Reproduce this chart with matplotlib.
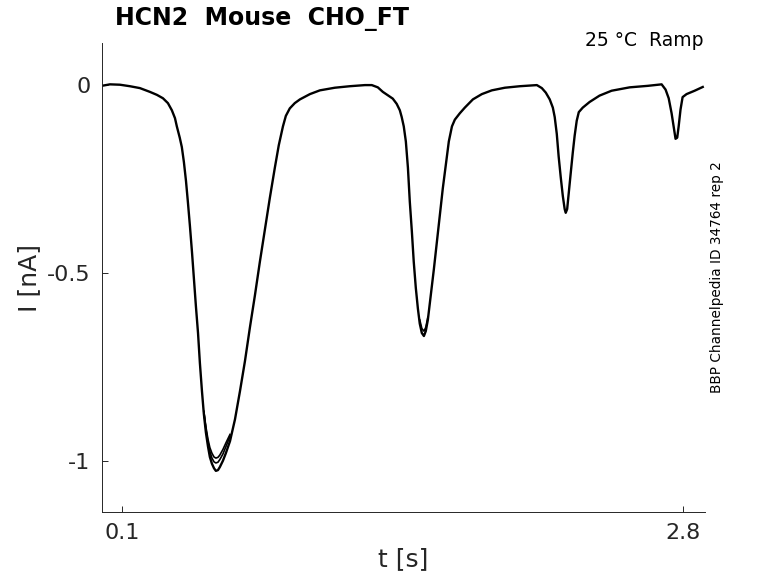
import matplotlib
matplotlib.use("Agg")
import matplotlib.pyplot as plt
import numpy as np

t = [0.000, 0.040, 0.088, 0.136, 0.184, 0.232, 0.266, 0.295, 0.319, 0.338,
     0.353, 0.362, 0.376, 0.386, 0.396, 0.406, 0.415, 0.425, 0.435, 0.444,
     0.454, 0.464, 0.473, 0.483, 0.492, 0.502, 0.512, 0.521, 0.531, 0.541,
     0.550, 0.560, 0.569, 0.584, 0.598, 0.618, 0.642, 0.666, 0.690, 0.714,
     0.738, 0.762, 0.786, 0.810, 0.834, 0.853, 0.873, 0.887, 0.906, 0.930,
     0.955, 1.003, 1.051, 1.123, 1.195, 1.268, 1.301,
     1.330, 1.354, 1.378, 1.402, 1.421, 1.436, 1.445, 1.455, 1.465, 1.475,
     1.484, 1.494, 1.503, 1.513, 1.523, 1.532, 1.542, 1.552, 1.561, 1.571,
     1.585, 1.600, 1.614, 1.629, 1.643, 1.658, 1.672, 1.687, 1.701, 1.725,
     1.749, 1.788, 1.831, 1.879, 1.942, 2.014, 2.096,
     2.120, 2.139, 2.158, 2.173, 2.182, 2.192, 2.201, 2.211, 2.221, 2.230,
     2.235, 2.242, 2.249, 2.259, 2.269, 2.278, 2.288, 2.298, 2.317, 2.350,
     2.398, 2.456, 2.543, 2.630, 2.697,
     2.716, 2.731, 2.745, 2.755, 2.764, 2.772, 2.779, 2.788, 2.798, 2.817,
     2.856, 2.895]
i_rep1 = [-0.002, 0.002, 0.001, -0.003, -0.008, -0.018, -0.026, -0.035, -0.048, -0.067,
          -0.088, -0.110, -0.140, -0.165, -0.205, -0.255, -0.310, -0.375, -0.445, -0.515,
          -0.590, -0.660, -0.740, -0.815, -0.875, -0.925, -0.962, -0.990, -1.008, -1.020,
          -1.027, -1.025, -1.017, -1.000, -0.980, -0.948, -0.890, -0.815, -0.735, -0.645,
          -0.560, -0.470, -0.385, -0.300, -0.220, -0.160, -0.110, -0.082, -0.062, -0.048,
          -0.038, -0.024, -0.014, -0.007, -0.003, 0.000, 0.000,
          -0.006, -0.018, -0.027, -0.036, -0.050, -0.067, -0.085, -0.110, -0.150, -0.220,
          -0.310, -0.390, -0.470, -0.540, -0.595, -0.635, -0.660, -0.668, -0.655, -0.625,
          -0.560, -0.490, -0.420, -0.345, -0.275, -0.210, -0.150, -0.110, -0.092, -0.075,
          -0.060, -0.038, -0.024, -0.014, -0.007, -0.003, 0.000,
          -0.008, -0.020, -0.038, -0.060, -0.085, -0.130, -0.190, -0.245, -0.295, -0.330,
          -0.340, -0.330, -0.290, -0.235, -0.180, -0.135, -0.095, -0.072, -0.060, -0.045,
          -0.028, -0.015, -0.006, -0.002, 0.002,
          -0.012, -0.035, -0.075, -0.110, -0.143, -0.140, -0.110, -0.065, -0.032, -0.024,
          -0.015, -0.005]

# other repetitions only separate visibly around the two large minima
t_rep = [0.492, 0.502, 0.512, 0.521, 0.531, 0.541, 0.550, 0.560, 0.569, 0.584, 0.598, 0.618]
i_rep2 = [-0.870, -0.915, -0.950, -0.975, -0.993, -1.003, -1.006, -1.004, -0.997, -0.982, -0.963, -0.935]
i_rep3 = [-0.868, -0.910, -0.943, -0.965, -0.980, -0.990, -0.993, -0.991, -0.985, -0.970, -0.953, -0.930]
t_rep_b = [1.532, 1.542, 1.552, 1.561, 1.571]
i_rep4 = [-0.625, -0.648, -0.655, -0.645, -0.618]

fig = plt.figure(figsize=(7.78, 5.83), dpi=100)
ax = fig.add_axes([0.1307, 0.1218, 0.7755, 0.8044])

ax.plot(t, i_rep1, color="black", lw=1.7)
ax.plot(t_rep, i_rep2, color="black", lw=1.2)
ax.plot(t_rep, i_rep3, color="black", lw=1.2)
ax.plot(t_rep_b, i_rep4, color="black", lw=1.2)

ax.set_xlim(0.0, 2.906)
ax.set_ylim(-1.1365, 0.112)
ax.set_xticks([0.1, 2.8])
ax.set_xticklabels(["0.1", "2.8"])
ax.set_yticks([0, -0.5, -1])
ax.set_yticklabels(["0", "-0.5", "-1"])

txtc = "#262626"
for s in ["top", "right"]:
    ax.spines[s].set_visible(False)
for s in ["left", "bottom"]:
    ax.spines[s].set_color(txtc)
    ax.spines[s].set_linewidth(0.7)
ax.tick_params(direction="in", length=4, width=0.7, colors=txtc, labelsize=16, pad=8)

ax.set_xlabel("t [s]", fontsize=18, color=txtc, labelpad=3)
ax.set_ylabel("I [nA]", fontsize=18, color=txtc, labelpad=4)

fig.text(0.148, 0.968, "HCN2  Mouse  CHO_FT", fontsize=17, fontweight="bold",
         ha="left", va="center", color="black")
fig.text(0.904, 0.930, "25 °C  Ramp", fontsize=13.5, ha="right", va="center", color="black")
fig.text(0.9216, 0.524, "BBP Channelpedia ID 34764 rep 2", fontsize=9.8,
         rotation=90, ha="center", va="center", color="black")

fig.savefig("out.png", dpi=100)
